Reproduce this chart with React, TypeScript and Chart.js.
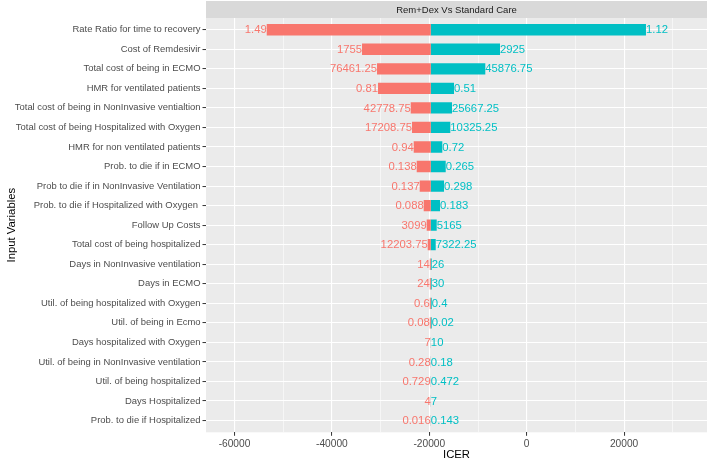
import React, { useEffect, useRef } from 'react';
import { Chart, registerables } from 'chart.js';

Chart.register(...registerables);

const variables = [
  'Rate Ratio for time to recovery',
  'Cost of Remdesivir',
  'Total cost of being in ECMO',
  'HMR for ventilated patients',
  'Total cost of being in NonInvasive ventialtion',
  'Total cost of being Hospitalized with Oxygen',
  'HMR for non ventilated patients',
  'Prob. to die if in ECMO',
  'Prob to die if in NonInvasive Ventilation',
  'Prob. to die if Hospitalized with Oxygen ',
  'Follow Up Costs',
  'Total cost of being hospitalized',
  'Days in NonInvasive ventilation',
  'Days in ECMO',
  'Util. of being hospitalized with Oxygen',
  'Util. of being in Ecmo',
  'Days hospitalized with Oxygen',
  'Util. of being in NonInvasive ventilation',
  'Util. of being hospitalized',
  'Days Hospitalized',
  'Prob. to die if Hospitalized',
];

const lowLabels = [
  '1.49', '1755', '76461.25', '0.81', '42778.75', '17208.75', '0.94', '0.138', '0.137', '0.088',
  '3099', '12203.75', '14', '24', '0.6', '0.08', '7', '0.28', '0.729', '4', '0.016',
];

const highLabels = [
  '1.12', '2925', '45876.75', '0.51', '25667.25', '10325.25', '0.72', '0.265', '0.298', '0.183',
  '5165', '7322.25', '26', '30', '0.4', '0.02', '10', '0.18', '0.472', '7', '0.143',
];

const baseICER = -19700;

const lowICER = [
  -53380, -33815, -30735, -30530, -23815, -23550, -23200, -22585, -21970, -21150,
  -20530, -20325, -19900, -19900, -19900, -19900, -19720, -19720, -19720, -19720, -19720,
];

const highICER = [
  24490, -5480, -8500, -14925, -15335, -15685, -17330, -16630, -16980, -17800,
  -18477, -18682, -19500, -19500, -19500, -19500, -19680, -19680, -19680, -19680, -19680,
];

const xMajorTicks = [-60000, -40000, -20000, 0, 20000];
const xMinorTicks = [-50000, -30000, -10000, 10000, 30000];

const panelTitle = 'Rem+Dex Vs Standard Care';
const xTitle = 'ICER';
const yTitle = 'Input Variables';

const RED = '#F8766D';
const TEAL = '#00BFC4';
const FONT = "'Liberation Sans', Arial, sans-serif";

const decor = {
  id: 'decor',
  beforeDraw(chart: any) {
    const { ctx, chartArea: a } = chart;
    ctx.save();
    ctx.fillStyle = '#EBEBEB';
    ctx.fillRect(a.left, a.top, a.right - a.left, a.bottom - a.top);
    ctx.fillStyle = '#D9D9D9';
    ctx.fillRect(a.left, 1, a.right - a.left, a.top - 1);
    ctx.restore();
  },
  afterDatasetsDraw(chart: any) {
    const { ctx } = chart;
    const xs = chart.scales.x;
    const ys = chart.scales.y;
    ctx.save();
    ctx.font = `11.3px ${FONT}`;
    ctx.textBaseline = 'middle';
    variables.forEach((_, i) => {
      const y = ys.getPixelForValue(i + 1);
      ctx.fillStyle = RED;
      ctx.textAlign = 'right';
      ctx.fillText(lowLabels[i], xs.getPixelForValue(lowICER[i]), y + 0.5);
      ctx.fillStyle = TEAL;
      ctx.textAlign = 'left';
      ctx.fillText(highLabels[i], xs.getPixelForValue(highICER[i]), y + 0.5);
    });
    ctx.restore();
  },
  afterDraw(chart: any) {
    const { ctx, chartArea: a } = chart;
    ctx.save();
    ctx.textAlign = 'center';
    ctx.textBaseline = 'middle';
    ctx.fillStyle = '#1A1A1A';
    ctx.font = `9.5px ${FONT}`;
    ctx.fillText(panelTitle, (a.left + a.right) / 2, (1 + a.top) / 2 + 0.5);
    ctx.fillStyle = '#000000';
    ctx.font = `11.3px ${FONT}`;
    ctx.fillText(xTitle, (a.left + a.right) / 2, 455);
    ctx.translate(12, (a.top + a.bottom) / 2);
    ctx.rotate(-Math.PI / 2);
    ctx.fillText(yTitle, 0, 0);
    ctx.restore();
  },
};

export default function App() {
  const ref = useRef<HTMLCanvasElement | null>(null);

  useEffect(() => {
    if (!ref.current) return;
    const allX = [...xMajorTicks, ...xMinorTicks].sort((p, q) => p - q);
    const isMajor = (v: number) => xMajorTicks.includes(v);
    const chart = new Chart(ref.current, {
      type: 'bar',
      data: {
        datasets: [
          {
            label: 'low',
            data: lowICER.map((v, i) => ({ x: [baseICER, v], y: i + 1 })) as any,
            backgroundColor: RED,
            borderWidth: 0,
            grouped: false,
            barPercentage: 0.58,
            categoryPercentage: 1,
          } as any,
          {
            label: 'high',
            data: highICER.map((v, i) => ({ x: [baseICER, v], y: i + 1 })) as any,
            backgroundColor: TEAL,
            borderWidth: 0,
            grouped: false,
            barPercentage: 0.58,
            categoryPercentage: 1,
          } as any,
        ],
      },
      options: {
        indexAxis: 'y',
        animation: false,
        responsive: false,
        maintainAspectRatio: false,
        layout: { padding: { top: 18, left: 0, right: 0, bottom: 0 } },
        plugins: {
          legend: { display: false },
          tooltip: { enabled: false },
          title: { display: false },
        },
        scales: {
          x: {
            type: 'linear',
            min: -65850,
            max: 37020,
            offset: false,
            afterBuildTicks: (scale: any) => {
              scale.ticks = allX.map((v) => ({ value: v }));
            },
            afterFit: (scale: any) => {
              scale.height = 27.7;
            },
            border: { display: false },
            grid: {
              offset: false,
              color: '#FFFFFF',
              lineWidth: (c: any) => (isMajor(c.tick?.value) ? 1.1 : 0.55),
              tickColor: (c: any) => (isMajor(c.tick?.value) ? '#333333' : 'rgba(0,0,0,0)'),
              tickLength: 3.5,
              tickWidth: 1,
            },
            ticks: {
              autoSkip: false,
              maxRotation: 0,
              padding: 2,
              color: '#4D4D4D',
              font: { family: FONT, size: 10.2 },
              callback: (v: any) => (isMajor(Number(v)) ? String(v) : ''),
            },
          },
          y: {
            type: 'linear',
            reverse: true,
            min: 0.4,
            max: 21.6,
            offset: false,
            afterBuildTicks: (scale: any) => {
              scale.ticks = variables.map((_, i) => ({ value: i + 1 }));
            },
            afterFit: (scale: any) => {
              scale.width = 206;
            },
            border: { display: false },
            grid: {
              offset: false,
              color: '#FFFFFF',
              lineWidth: 1.1,
              tickColor: '#333333',
              tickLength: 3.5,
              tickWidth: 1,
            },
            ticks: {
              autoSkip: false,
              padding: 2,
              color: '#4D4D4D',
              font: { family: FONT, size: 9.45 },
              callback: (v: any) => variables[Number(v) - 1] ?? '',
            },
          },
        },
      },
      plugins: [decor],
    } as any);
    return () => chart.destroy();
  }, []);

  return (
    <div style={{ position: 'fixed', left: 0, top: 0, width: 707, height: 460, background: '#FFFFFF' }}>
      <canvas ref={ref} width={707} height={460} style={{ display: 'block', width: 707, height: 460 }} />
    </div>
  );
}
